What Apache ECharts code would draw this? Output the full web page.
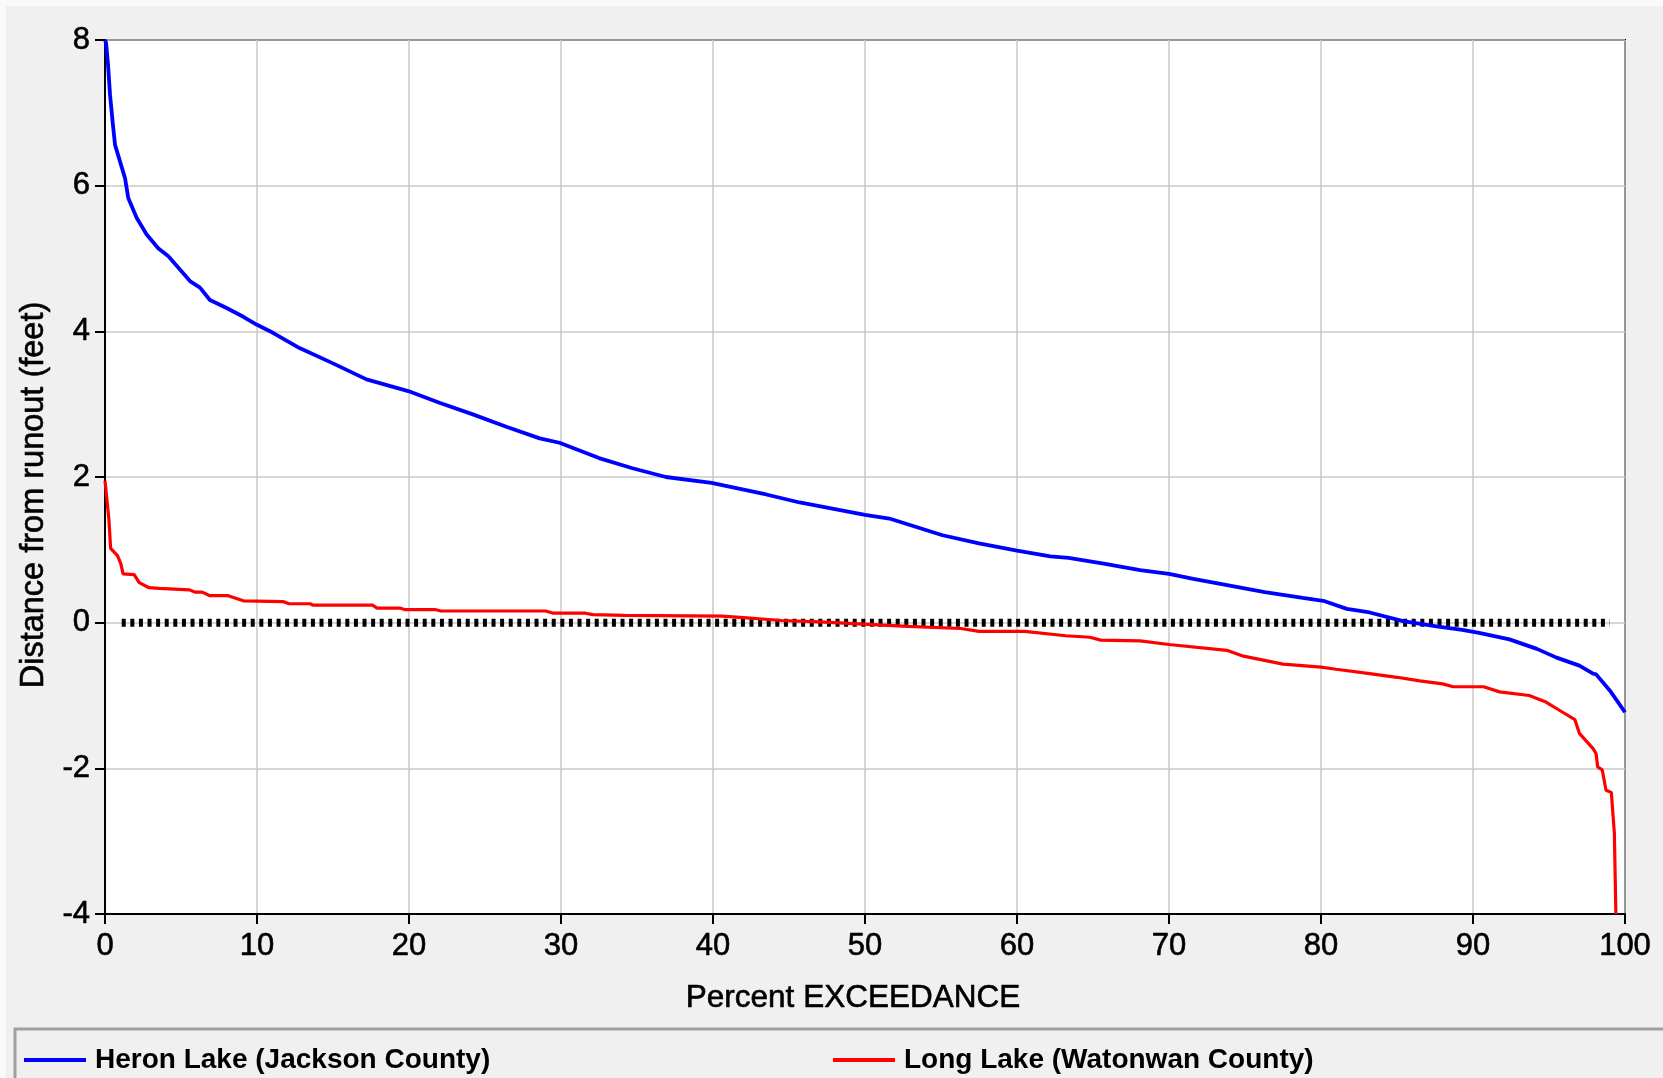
<!DOCTYPE html>
<html>
<head>
<meta charset="utf-8">
<script src="https://cdn.jsdelivr.net/npm/echarts@6/dist/echarts.min.js"></script>
<style>
html,body{margin:0;padding:0;background:#fff;}
#chart{width:1663px;height:1078px;}
</style>
</head>
<body>
<div id="chart"></div>
<script>
var heronPct = [0,0.07,0.2,0.33,0.5,0.66,0.99,1.32,1.53,2.08,2.74,3.5,4.17,4.93,5.59,6.25,6.9,8.0,9.1,10.0,11.05,12.8,15.0,17.2,19.95,22.0,24.2,26.4,28.6,29.9,32.5,34.7,36.9,39.9,43.5,45.7,50,51.6,55.1,57.5,60,62.2,63.4,65.7,68.1,70,71.6,74,76.3,78.8,80.15,81.7,83.2,85.4,87.6,89.3,90.4,92.4,94.2,95.5,97.0,97.9,98.1,99.0,100];
var heronDist = [8.0,7.96,7.66,7.25,6.88,6.56,6.33,6.1,5.83,5.56,5.33,5.14,5.03,4.85,4.69,4.6,4.43,4.32,4.2,4.09,3.98,3.77,3.56,3.34,3.18,3.02,2.86,2.69,2.53,2.47,2.26,2.12,2.0,1.92,1.76,1.65,1.48,1.43,1.2,1.09,0.99,0.91,0.89,0.81,0.72,0.67,0.6,0.51,0.42,0.34,0.3,0.19,0.14,0.02,-0.05,-0.1,-0.14,-0.23,-0.36,-0.48,-0.59,-0.70,-0.71,-0.93,-1.23];

var longPct = [0,0.26,0.37,0.82,1.04,1.19,1.92,2.25,2.9,3.57,5.56,5.9,6.4,6.9,8.1,9.1,11.7,12.1,13.5,13.7,17.6,17.9,19.4,19.7,21.7,22.1,29.0,29.5,31.6,32.1,34.2,40.6,42,44.5,47,52.8,56.3,57.5,60.5,63.2,64.8,65.5,68.1,70,73.8,74.9,77.5,80,81.0,83.2,85.0,86.5,88.0,88.7,90.7,91.75,93.7,94.8,95.9,96.7,97.0,97.9,98.1,98.2,98.5,98.75,99.1,99.3,99.4];
var longDist = [1.95,1.41,1.02,0.92,0.81,0.67,0.66,0.55,0.48,0.47,0.45,0.42,0.42,0.37,0.37,0.30,0.29,0.26,0.26,0.24,0.24,0.2,0.2,0.18,0.18,0.16,0.16,0.13,0.13,0.11,0.1,0.09,0.07,0.03,0.01,-0.05,-0.08,-0.12,-0.12,-0.18,-0.2,-0.24,-0.25,-0.3,-0.38,-0.46,-0.57,-0.61,-0.64,-0.70,-0.75,-0.80,-0.84,-0.88,-0.88,-0.95,-1.0,-1.09,-1.23,-1.33,-1.52,-1.73,-1.80,-1.98,-2.02,-2.30,-2.33,-2.89,-4.0];

var zeroPct = [1.1, 99];
var zeroDist = [0, 0];

var seriesNames = ['Heron Lake (Jackson County)', 'Long Lake (Watonwan County)'];
var xTitle = 'Percent EXCEEDANCE';
var yTitle = 'Distance from runout (feet)';

function pairs(xs, ys){ return xs.map(function(x,i){ return [x, ys[i]]; }); }

var chart = echarts.init(document.getElementById('chart'), null, {renderer:'canvas'});
var font = 'Liberation Sans, Arial, sans-serif';
var heavy = {textBorderColor:'#000', textBorderWidth:0.6};
chart.setOption({
  backgroundColor: '#f0f0f0',
  animation: false,
  graphic: [
    {type:'rect', shape:{x:0,y:0,width:1663,height:6}, style:{fill:'#fafafa'}, z:-1},
    {type:'rect', shape:{x:0,y:0,width:6,height:1078}, style:{fill:'#fafafa'}, z:-1},
    {type:'rect', shape:{x:15,y:1029,width:1660,height:70}, style:{fill:'#f0f0f0', stroke:'#a0a0a0', lineWidth:3}, z:-1}
  ],
  grid: {left:105, right:38, top:40, bottom:164, show:true, backgroundColor:'#fff', borderColor:'#000', borderWidth:2},
  legend: [
    {data:[seriesNames[0]], left:19, top:1041, itemWidth:62, itemHeight:4, icon:'rect',
     textStyle:{fontFamily:font, fontSize:28, fontWeight:'bold', color:'#000', padding:[0,0,0,4]}},
    {data:[seriesNames[1]], left:828, top:1041, itemWidth:62, itemHeight:4, icon:'rect',
     textStyle:{fontFamily:font, fontSize:28, fontWeight:'bold', color:'#000', padding:[0,0,0,4]}}
  ],
  xAxis: {
    type:'value', min:0, max:100, interval:10,
    name:xTitle, nameLocation:'middle', nameGap:68,
    nameTextStyle:Object.assign({fontFamily:font, fontSize:31.5, color:'#000', padding:[0,24,0,0]}, heavy),
    axisLine:{show:true, onZero:false, lineStyle:{color:'#000', width:2}},
    axisTick:{show:true, length:10, lineStyle:{color:'#000', width:2}},
    axisLabel:Object.assign({fontFamily:font, fontSize:31, color:'#000', margin:17}, heavy),
    splitLine:{show:true, lineStyle:{color:'#c8c8c8', width:1.5}}
  },
  yAxis: {
    type:'value', min:-4, max:8, interval:2,
    name:yTitle, nameLocation:'middle', nameGap:49,
    nameTextStyle:Object.assign({fontFamily:font, fontSize:32.5, color:'#000', padding:[0,36,0,0]}, heavy),
    axisLine:{show:true, onZero:false, lineStyle:{color:'#000', width:2}},
    axisTick:{show:true, length:10, lineStyle:{color:'#000', width:2}},
    axisLabel:Object.assign({fontFamily:font, fontSize:31, color:'#000', margin:15}, heavy),
    splitLine:{show:true, lineStyle:{color:'#c8c8c8', width:1.5}}
  },
  series: [
    {name:'zero', type:'line', data:pairs(zeroPct, zeroDist), symbol:'none', silent:true,
     lineStyle:{color:'#000', width:8, type:[4,4.6]}, z:3},
    {name:seriesNames[0], type:'line', data:pairs(heronPct, heronDist), symbol:'none',
     itemStyle:{color:'#0000ff'}, lineStyle:{color:'#0000ff', width:3.8}, z:4},
    {name:seriesNames[1], type:'line', data:pairs(longPct, longDist), symbol:'none',
     itemStyle:{color:'#ff0000'}, lineStyle:{color:'#ff0000', width:3.2}, z:5}
  ]
});
</script>
</body>
</html>
